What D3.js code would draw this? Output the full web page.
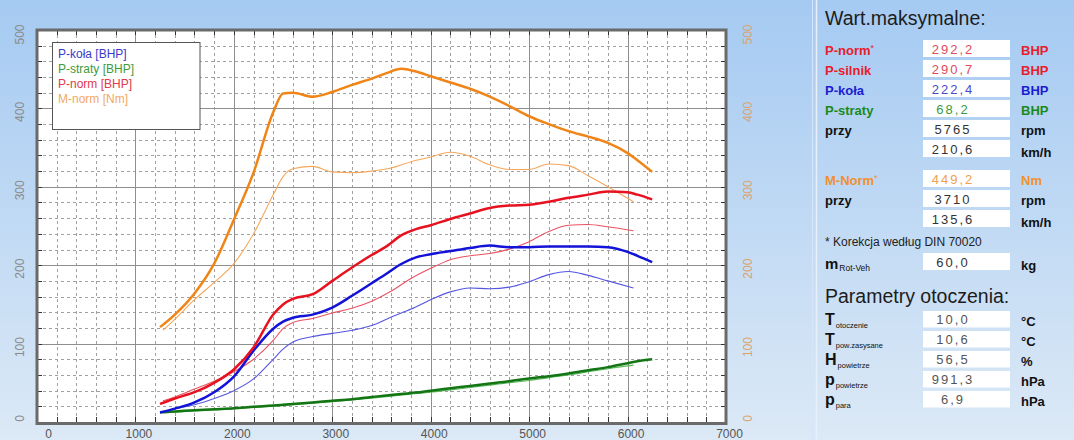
<!DOCTYPE html>
<html><head><meta charset="utf-8">
<script src="https://cdnjs.cloudflare.com/ajax/libs/d3/7.8.5/d3.min.js"></script>
<style>
html,body{margin:0;padding:0;overflow:hidden;background:#cfe1f5;}
svg{display:block;font-family:"Liberation Sans",Arial,sans-serif;}
</style></head><body>
<svg id="c" width="1074" height="440"></svg>
<script>
// ---------- DATA ----------
// Run A (thick lines)
const rpmA = [1250,1400,1600,1800,2000,2200,2400,2500,2600,2800,3000,3200,3400,3550,3700,3850,4000,4200,4400,4600,4800,5000,5200,5400,5600,5800,6000,6100,6250];
const pNormA   = [23,30,38,50,67,95,137,150,157,163,180,197,213,224,238,246,251,259,266,273,276,277,281,286,290,294,293,290,284];
const pKolaA   = [12,17,25,38,58,91,119,128,133,137,146,161,177,189,201.5,210,214,218,222,225,223,223,224,224,224,223,217,212,204];
const pStratyA = [12.5,13.5,15,16.3,17.5,19.5,21,22,23,25,27,29,32,33.8,35.8,37.5,40,43,46,49,52,55.5,58.5,62,66,70,75,77.5,80];
const mNormA   = [121,137,164,202,258,318,395,419,420,415,421,430,438,445,450.5,447,441,433,425,415,403,390,380,371,364,356,343,334,319];
// Run B (thin lines)
const rpmB = [1280,1400,1600,1800,2000,2200,2400,2500,2600,2800,3000,3200,3400,3600,3800,4000,4200,4400,4600,4800,5000,5200,5400,5600,5800,6060];
const pNormB   = [27,32,42,52,64,80,104,119,127,132,139,145,154,167,183,196,207,212,215,220.5,230,243,251,252,249,244];
const pKolaB   = [13,17,22,30,40,55,80,93,102,109,113,117,123,134,144,156,166,171,170,172,179,188,192,187,180,171];
const pStratyB = [11.5,12.5,14,15.5,17,18.5,20,21,22,24,26,28,30.5,33,35.5,38,41,44,47,50,53,56.5,60,64,68,72.5];
const mNormB   = [117,131,156,178,202,240,290,313,323,326,319,318,320,324,332,338,344,339,328,322,322,329,327,314,300,281];

const xTicks = [0,1000,2000,3000,4000,5000,6000,7000];
const yTicks = [0,100,200,300,400,500];
const legendLabels = ["P-koła [BHP]","P-straty [BHP]","P-norm [BHP]","M-norm [Nm]"];

const maxLabels = ["P-norm*","P-silnik","P-koła","P-straty","przy",""];
const maxValues = ["292,2","290,7","222,4","68,2","5765","210,6"];
const maxUnits  = ["BHP","BHP","BHP","BHP","rpm","km/h"];
const torqLabels = ["M-Norm*","przy",""];
const torqValues = ["449,2","3710","135,6"];
const torqUnits  = ["Nm","rpm","km/h"];
const massLabel = ["m","Rot-Veh"], massValue = "60,0", massUnit = "kg";
const envLabels = [["T","otoczenie"],["T","pow.zasysane"],["H","powietrze"],["p","powietrze"],["p","para"]];
const envValues = ["10,0","10,6","56,5","991,3","6,9"];
const envUnits  = ["°C","°C","%","hPa","hPa"];

// ---------- DRAW ----------
const W=1074,H=440;
const svg=d3.select("#c");
const defs=svg.append("defs");
const grad=defs.append("linearGradient").attr("id","bg").attr("x1",0).attr("y1",0).attr("x2",0).attr("y2",1);
grad.append("stop").attr("offset","0%").attr("stop-color","#a5caf2");
grad.append("stop").attr("offset","100%").attr("stop-color","#dce9f6");
svg.append("rect").attr("width",W).attr("height",H).attr("fill","url(#bg)");

const L=37,R=726,T=30,B=422;
const x=d3.scaleLinear().domain([0,7000]).range([L,R]);
const y=d3.scaleLinear().domain([0,500]).range([B,T]);

svg.append("rect").attr("x",L).attr("y",T).attr("width",R-L).attr("height",B-T+1).attr("fill","#fff");

const xMinor=d3.range(0,7001,200).filter(v=>v%1000!==0);
const yMinor=d3.range(0,501,20).filter(v=>v%100!==0);
const xMajor=xTicks.filter(v=>v>0&&v<7000);
const yMajor=yTicks.filter(v=>v>0&&v<500);

function styleGrid(g,color,dash){
  g.select(".domain").remove();
  g.selectAll(".tick line").attr("stroke",color).attr("stroke-width",1).attr("stroke-dasharray",dash).attr("shape-rendering","crispEdges");
}
svg.append("g").attr("transform",`translate(0,${B})`)
  .call(d3.axisBottom(x).tickValues(xMinor).tickSize(-(B-T)).tickFormat(""))
  .call(g=>styleGrid(g,"#a0a0a0","3,3"));
svg.append("g").attr("transform",`translate(${L},0)`)
  .call(d3.axisLeft(y).tickValues(yMinor).tickSize(-(R-L)).tickFormat(""))
  .call(g=>styleGrid(g,"#a0a0a0","3,3"));
svg.append("g").attr("transform",`translate(0,${B})`)
  .call(d3.axisBottom(x).tickValues(xMajor).tickSize(-(B-T)).tickFormat(""))
  .call(g=>styleGrid(g,"#8e8e8e",null));
svg.append("g").attr("transform",`translate(${L},0)`)
  .call(d3.axisLeft(y).tickValues(yMajor).tickSize(-(R-L)).tickFormat(""))
  .call(g=>styleGrid(g,"#8e8e8e",null));

// inner tick marks
const allX=d3.range(0,7001,200), allY=d3.range(0,501,20);
function styleTick(g){g.select(".domain").remove();g.selectAll(".tick line").attr("stroke","#333").attr("stroke-width",1).attr("shape-rendering","crispEdges");}
svg.append("g").attr("transform",`translate(0,${T})`).call(d3.axisTop(x).tickValues(allX).tickSize(-5).tickFormat("")).call(styleTick);
svg.append("g").attr("transform",`translate(0,${B})`).call(d3.axisBottom(x).tickValues(allX).tickSize(-5).tickFormat("")).call(styleTick);
svg.append("g").attr("transform",`translate(${L},0)`).call(d3.axisLeft(y).tickValues(allY).tickSize(-5).tickFormat("")).call(styleTick);
svg.append("g").attr("transform",`translate(${R},0)`).call(d3.axisRight(y).tickValues(allY).tickSize(-5).tickFormat("")).call(styleTick);

// lines
defs.append("clipPath").attr("id","clip").append("rect").attr("x",L).attr("y",T).attr("width",R-L).attr("height",B-T);
const lg=svg.append("g").attr("clip-path","url(#clip)");
const line=(xs)=>d3.line().x((d,i)=>x(xs[i])).y(d=>y(d)).curve(d3.curveMonotoneX);
const thin=[[pStratyB,"#5cb85c"],[pKolaB,"#5555e2"],[pNormB,"#ea5262"],[mNormB,"#f5a75c"]];
const thick=[[pStratyA,"#137513"],[pKolaA,"#1212d8"],[pNormA,"#e8111f"],[mNormA,"#f08416"]];
thin.forEach(([v,c])=>lg.append("path").datum(v).attr("d",line(rpmB)).attr("fill","none").attr("stroke",c).attr("stroke-width",1.1));
thick.forEach(([v,c])=>lg.append("path").datum(v).attr("d",line(rpmA)).attr("fill","none").attr("stroke",c).attr("stroke-width",2.5).attr("stroke-linejoin","round"));

// frame
svg.append("rect").attr("x",L).attr("y",T).attr("width",R-L).attr("height",B-T+1.5).attr("fill","none").attr("stroke","#6a6a6a").attr("stroke-width",3);

// axis labels
svg.append("g").attr("transform",`translate(0,${B})`)
  .call(d3.axisBottom(x).tickValues(xTicks).tickSize(0).tickPadding(0).tickFormat(d3.format("d")))
  .call(g=>{g.select(".domain").remove();
    g.selectAll(".tick text").attr("fill","#555").attr("font-size",12).attr("font-family","Liberation Sans, Arial, sans-serif")
     .attr("dy",0).attr("y",15.5).attr("x",d=>d===0?11:3);});
svg.append("g").attr("transform",`translate(${L},0)`)
  .call(d3.axisLeft(y).tickValues(yTicks).tickSize(0).tickFormat(d3.format("d")))
  .call(g=>{g.select(".domain").remove();
    g.selectAll(".tick text").attr("fill","#8a8a8a").attr("font-size",12).attr("font-family","Liberation Sans, Arial, sans-serif")
     .attr("text-anchor","middle").attr("x",0).attr("dy",0)
     .attr("transform",d=>{const off=Math.max(T+4,Math.min(B-4,y(d)+3))-y(d);return `translate(-13,${off}) rotate(-90)`;});});
svg.append("g").attr("transform",`translate(${R},0)`)
  .call(d3.axisRight(y).tickValues(yTicks).tickSize(0).tickFormat(d3.format("d")))
  .call(g=>{g.select(".domain").remove();
    g.selectAll(".tick text").attr("fill","#dca36c").attr("font-size",12).attr("font-family","Liberation Sans, Arial, sans-serif")
     .attr("text-anchor","middle").attr("x",0).attr("dy",0)
     .attr("transform",d=>{const off=Math.max(T+4,Math.min(B-4,y(d)+3))-y(d);return `translate(26,${off}) rotate(-90)`;});});

// legend
const leg=svg.append("g");
leg.append("rect").attr("x",52.5).attr("y",42.5).attr("width",147.5).attr("height",87).attr("fill","#fff").attr("stroke","#555").attr("stroke-width",1);
const legColors=["#3a3ac8","#3d9b3d","#e23a4a","#f2a866"];
legendLabels.forEach((t,i)=>leg.append("text").attr("x",58).attr("y",58+i*15).attr("font-size",12).attr("fill",legColors[i]).text(t));

// right panel
const P=svg.append("g");
P.append("line").attr("x1",812.5).attr("x2",812.5).attr("y1",0).attr("y2",H).attr("stroke","#d6e6f8").attr("stroke-width",1);
P.append("line").attr("x1",816.5).attr("x2",816.5).attr("y1",0).attr("y2",H).attr("stroke","#e6f0fb").attr("stroke-width",1.5);
P.append("text").attr("x",825).attr("y",25).attr("font-size",19.5).attr("fill","#1c1c1c").text("Wart.maksymalne:");
P.append("text").attr("x",825).attr("y",303).attr("font-size",19.5).attr("fill","#1c1c1c").text("Parametry otoczenia:");

function labelText(sel,label){
  if(label.endsWith("*")){
    sel.append("tspan").text(label.slice(0,-1));
    sel.append("tspan").attr("font-size",9).attr("font-weight","normal").attr("dy",-4).text("*");
  } else sel.text(label);
}
function row(top,label,value,unit,lc,vc,uc,unitDy){
  P.append("rect").attr("x",923).attr("y",top).attr("width",87).attr("height",17).attr("fill","#fff");
  P.append("text").attr("x",953).attr("y",top+14).attr("text-anchor","middle").attr("font-size",13)
    .attr("letter-spacing",2).attr("fill",vc).text(value);
  if(label){const t=P.append("text").attr("x",825).attr("y",top+15).attr("font-size",13).attr("font-weight","bold").attr("fill",lc);labelText(t,label);}
  P.append("text").attr("x",1021).attr("y",top+15+(unitDy||0)).attr("font-size",13).attr("font-weight","bold").attr("fill",uc).text(unit);
}
const maxLC=["#e8202a","#e8202a","#1c1cd0","#1a8a1a","#111","#111"];
const maxVC=["#e04a5a","#e04a5a","#4a4ac8","#3a9a3a","#333","#333"];
maxLabels.forEach((l,i)=>row(40+20*i,l,maxValues[i],maxUnits[i],maxLC[i],maxVC[i],maxLC[i],maxUnits[i]==="km/h"?2:0));
const tLC=["#f09030","#111","#111"], tVC=["#f0a050","#333","#333"];
torqLabels.forEach((l,i)=>row(170+20*i,l,torqValues[i],torqUnits[i],tLC[i],tVC[i],tLC[i],torqUnits[i]==="km/h"?2:0));
P.append("text").attr("x",825).attr("y",246).attr("font-size",12).attr("fill","#222").text("* Korekcja według DIN 70020");
// mass row
P.append("rect").attr("x",923).attr("y",253).attr("width",87).attr("height",17).attr("fill","#fff");
P.append("text").attr("x",953).attr("y",267).attr("text-anchor","middle").attr("font-size",13).attr("letter-spacing",2).attr("fill","#333").text(massValue);
const mt=P.append("text").attr("x",825).attr("y",269).attr("fill","#111");
mt.append("tspan").attr("font-size",15).attr("font-weight","bold").text(massLabel[0]);
mt.append("tspan").attr("font-size",8.5).attr("dx",1).attr("dy",2).text(massLabel[1]);
P.append("text").attr("x",1021).attr("y",270).attr("font-size",13).attr("font-weight","bold").attr("fill","#111").text(massUnit);
// environment rows
envLabels.forEach((l,i)=>{
  const top=311+20*i;
  P.append("rect").attr("x",923).attr("y",top).attr("width",87).attr("height",16.5).attr("fill","#fff");
  P.append("text").attr("x",953).attr("y",top+13).attr("text-anchor","middle").attr("font-size",13).attr("letter-spacing",2).attr("fill","#555").text(envValues[i]);
  const t=P.append("text").attr("x",825).attr("y",top+14).attr("fill","#111");
  t.append("tspan").attr("font-size",16).attr("font-weight","bold").text(l[0]);
  t.append("tspan").attr("font-size",7.5).attr("dx",1).attr("dy",3).text(l[1]);
  P.append("text").attr("x",1021).attr("y",top+15).attr("font-size",13).attr("font-weight","bold").attr("fill","#111").text(envUnits[i]);
});
</script>
</body></html>
